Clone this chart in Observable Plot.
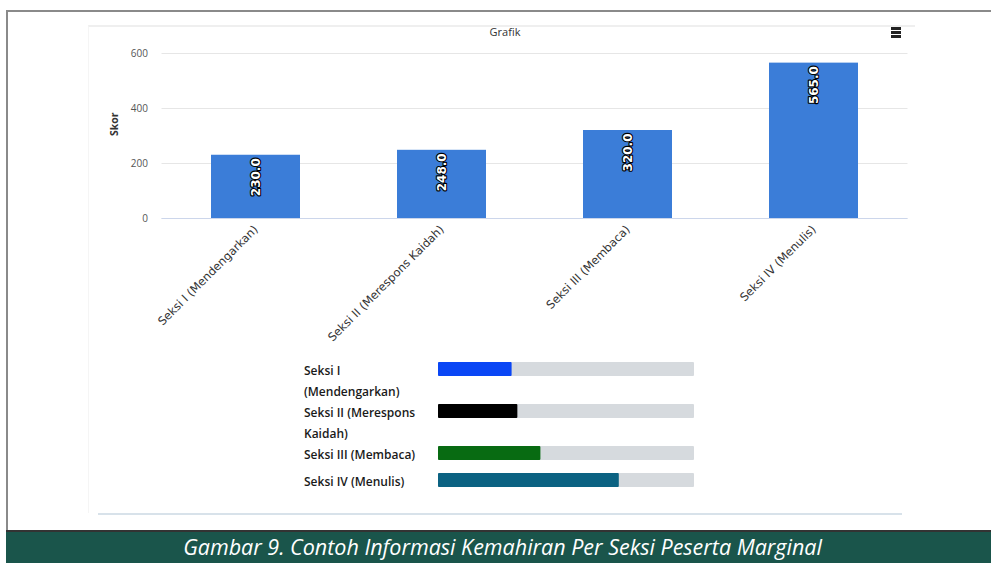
<!DOCTYPE html>
<html><head><meta charset="utf-8">
<script src="https://cdn.jsdelivr.net/npm/d3@7"></script>
<script src="https://cdn.jsdelivr.net/npm/@observablehq/plot@0.6"></script>
<style>
body{margin:0;width:991px;height:563px;overflow:hidden;background:#fff;font-family:"Open Sans",sans-serif;position:relative}
#frame{position:absolute;left:6px;top:10px;width:990px;height:522px;border-left:2px solid #8a8a8a;border-top:2px solid #8a8a8a;box-sizing:border-box}
#panel{position:absolute;left:88px;top:25px;width:827px;height:488px;border-top:2px solid #efefef;border-left:1px solid #f5f5f5;box-sizing:border-box}
#panelBottom{position:absolute;left:98px;top:513px;width:804px;height:0;border-top:2px solid #d8e2ea}
#title{position:absolute;left:455px;width:100px;top:24px;text-align:center;font-size:11px;color:#333;font-family:"Open Sans",sans-serif}
#menu{position:absolute;left:891px;top:27px;width:10px}
#menu div{height:2.5px;background:#222;margin-bottom:1.5px}
#chart{position:absolute;left:0;top:0}
#progress{position:absolute;left:304px;top:360px}
.row{display:flex;align-items:flex-start;min-height:27px}
.lab{width:122px;padding-right:12px;font-size:12px;line-height:21px;font-weight:600;color:#1a1a1a;font-family:"Open Sans",sans-serif}
.bar{margin-top:2px}
#caption{position:absolute;left:6px;top:530px;width:985px;height:33px;background:#1a554b;border-top:2px solid #333;box-sizing:border-box;color:#fff;font-style:italic;font-size:21.5px;text-align:center;line-height:30px;font-family:"Open Sans",sans-serif;padding-left:8px}
.xl text{font-family:"DejaVu Sans",sans-serif}
</style></head>
<body>
<div id="frame"></div>
<div id="panel"></div>
<div id="panelBottom"></div>
<div id="chart"></div>
<div id="title">Grafik</div>
<div id="menu"><div></div><div></div><div></div></div>
<div id="progress"></div>
<div id="caption">Gambar 9. Contoh Informasi Kemahiran Per Seksi Peserta Marginal</div>
<script>
const sections = ["Seksi I (Mendengarkan)", "Seksi II (Merespons Kaidah)", "Seksi III (Membaca)", "Seksi IV (Menulis)"];
const scores = [230, 248, 320, 565];
const yTicks = [0, 200, 400, 600];
const maxScore = 800;
const progressColors = ["#0a46f5", "#000000", "#086b12", "#0b6282"];

const data = sections.map((s, i) => ({section: s, score: scores[i]}));

const chart = Plot.plot({
  width: 991, height: 350,
  marginLeft: 161.5, marginRight: 83.5, marginTop: 53, marginBottom: 132,
  style: {fontFamily: "Open Sans, sans-serif", fontSize: "11px", background: "transparent", overflow: "visible"},
  x: {domain: sections, paddingInner: 0.523, paddingOuter: 0.2615},
  y: {domain: [0, 600]},
  marks: [
    Plot.gridY(yTicks, {stroke: "#e6e6e6", strokeOpacity: 1}),
    Plot.barY(data, {x: "section", y: "score", fill: "#3b7dd8"}),
    Plot.ruleY([0], {stroke: "#ccd6eb"}),
    Plot.axisY(yTicks, {tickSize: 0, tickPadding: 14, label: null, fill: "#555", fontSize: 10}),
    Plot.axisX({tickSize: 0, tickPadding: 9, tickRotate: -45, label: null, fill: "#333", fontSize: 11.5, className: "xl"}),
    Plot.text(data, {x: "section", y: "score", text: d => d.score.toFixed(1), rotate: -90, textAnchor: "end", dy: 3,
      fill: "white", stroke: "black", strokeWidth: 2.2, fontWeight: "bold", fontSize: 12, fontFamily: "DejaVu Sans"}),
    Plot.text(["Skor"], {frameAnchor: "left", dx: -47, rotate: -90, fontWeight: "bold", fill: "#333", fontSize: 10.5})
  ]
});
document.getElementById("chart").appendChild(chart);

const prog = document.getElementById("progress");
sections.forEach((s, i) => {
  const row = document.createElement("div");
  row.className = "row";
  const lab = document.createElement("div");
  lab.className = "lab";
  lab.textContent = s;
  row.appendChild(lab);
  const barWrap = document.createElement("div");
  barWrap.className = "bar";
  barWrap.appendChild(Plot.plot({
    width: 256, height: 14, margin: 0,
    style: {background: "transparent"},
    x: {domain: [0, maxScore], axis: null},
    marks: [
      Plot.barX([maxScore], {x1: 0, x2: d => d, fill: "#d6dade", rx: 1}),
      Plot.barX([scores[i]], {x1: 0, x2: d => d, fill: progressColors[i], rx: 1})
    ]
  }));
  row.appendChild(barWrap);
  prog.appendChild(row);
});
</script>
</body></html>
